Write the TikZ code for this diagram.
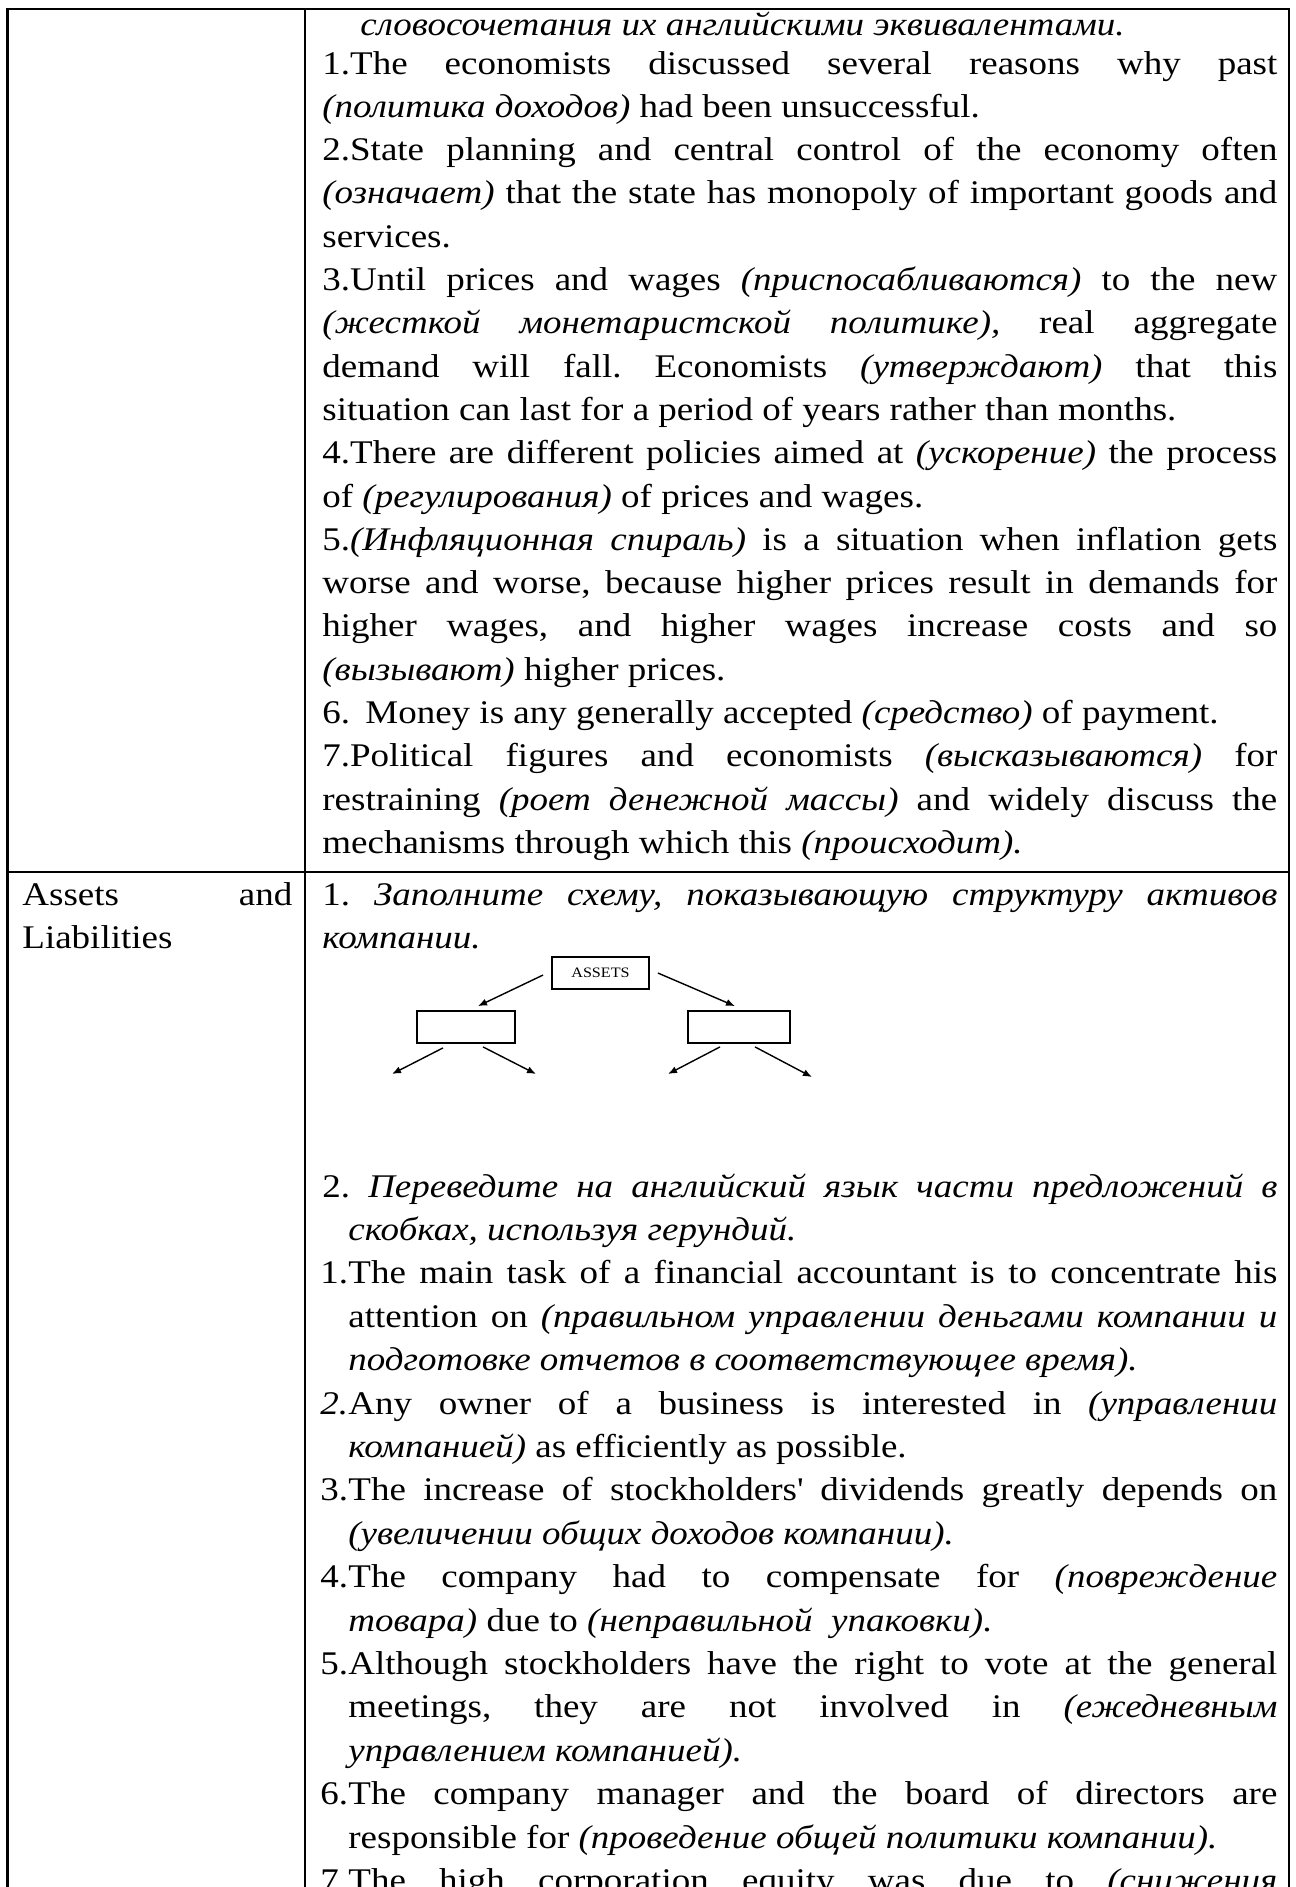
\documentclass[tikz,border=0pt]{standalone}
\usepackage{fontspec}
\setmainfont{Liberation Serif}[FakeStretch=1.12]
\usetikzlibrary{arrows.meta,calc}
\newcommand\jA[1]{\makebox[477.5pt][s]{#1}}
\newcommand\jB[1]{\makebox[464.5pt][s]{#1}}
\begin{document}
\begin{tikzpicture}[x=0.5pt,y=-0.5pt,
  txt/.style={anchor=base west, inner sep=0pt, font=\fontsize{16.52pt}{21.7pt}\selectfont\frenchspacing},
  rulel/.style={line width=1.25pt},
  dbox/.style={draw, line width=0.9pt, inner sep=0pt, minimum height=16pt},
  arr/.style={-{Latex[length=4.5pt,width=3.6pt]}, line width=0.7pt}]
\useasboundingbox (0,0) rectangle (1296,1887);
\fill[white] (0,0) rectangle (1296,1887);
% table rules
\draw[rulel] (7.5,1900) -- (7.5,9) -- (1289,9) -- (1289,1900);
\draw[rulel] (305,9) -- (305,1900);
\draw[rulel] (7.5,872) -- (1289,872);
% section 1
\node[txt] (l1) at (360,35) {\textit{словосочетания их английскими эквивалентами.}};
\node[txt] (l2) at (322,74) {\jA{1.The economists discussed several reasons why past}};
\node[txt] (l3) at (322,117.3) {\textit{(политика доходов)} had been unsuccessful.};
\node[txt] (l4) at (322,160.6) {\jA{2.State planning and central control of the economy often}};
\node[txt] (l5) at (322,203.9) {\jA{\textit{(означает)} that the state has monopoly of important goods and}};
\node[txt] (l6) at (322,247.2) {services.};
\node[txt] (l7) at (322,290.5) {\jA{3.Until prices and wages \textit{(приспосабливаются)} to the new}};
\node[txt] (l8) at (322,333.8) {\jA{\textit{(жесткой монетаристской политике),} real aggregate}};
\node[txt] (l9) at (322,377.1) {\jA{demand will fall. Economists \textit{(утверждают)} that this}};
\node[txt] (l10) at (322,420.4) {situation can last for a period of years rather than months.};
\node[txt] (l11) at (322,463.7) {\jA{4.There are different policies aimed at \textit{(ускорение)} the process}};
\node[txt] (l12) at (322,507) {of \textit{(регулирования)} of prices and wages.};
\node[txt] (l13) at (322,550.3) {\jA{5.\textit{(Инфляционная спираль)} is a situation when inflation gets}};
\node[txt] (l14) at (322,593.6) {\jA{worse and worse, because higher prices result in demands for}};
\node[txt] (l15) at (322,636.9) {\jA{higher wages, and higher wages increase costs and so}};
\node[txt] (l16) at (322,680.2) {\textit{(вызывают)} higher prices.};
\node[txt] (l17n) at (322,723.5) {6.};
\node[txt] (l17) at (365,723.5) {Money is any generally accepted \textit{(средство)} of payment.};
\node[txt] (l18) at (322,766.8) {\jA{7.Political figures and economists \textit{(высказываются)} for}};
\node[txt] (l19) at (322,810.1) {\jA{restraining \textit{(роет денежной массы)} and widely discuss the}};
\node[txt] (l20) at (322,853.4) {mechanisms through which this \textit{(происходит).}};
% left column
\node[txt] (c1) at (22,905) {\makebox[135pt][s]{Assets and}};
\node[txt] (c2) at (22,948) {Liabilities};
% section 2
\node[txt] (r1) at (322,905) {\jA{1. \textit{Заполните схему, показывающую структуру активов}}};
\node[txt] (r2) at (322,948) {\textit{компании.}};
% diagram
\node[dbox, minimum width=48.5pt, font=\fontsize{7.2pt}{9pt}\selectfont] (assets) at (600.5,973) {ASSETS};
\node[dbox, minimum width=49pt] (lb) at (466,1027) {};
\node[dbox, minimum width=51pt] (rb) at (739,1027) {};
\coordinate (lbl) at (392,1074);
\coordinate (lbr) at (536,1074);
\coordinate (rbl) at (668,1074);
\coordinate (rbr) at (812,1077);
\draw[arr] ($(assets.west)+(-8,2)$) -- ($(lb.north)+(12,-4)$);
\draw[arr] ($(assets.east)+(8,0)$) -- ($(rb.north)+(-4,-4)$);
\draw[arr] ($(lb.south)+(-23,4)$) -- (lbl);
\draw[arr] ($(lb.south)+(17,3)$) -- (lbr);
\draw[arr] ($(rb.south)+(-19,3)$) -- (rbl);
\draw[arr] ($(rb.south)+(16,3)$) -- (rbr);
% exercise 2
\node[txt] (r3) at (322,1197) {\jA{2. \textit{Переведите на английский язык части предложений в}}};
\node[txt] (r4) at (348,1240.4) {\textit{скобках, используя герундий.}};
\node[txt] (n1) at (320,1283.8) {1.};
\node[txt] (r5) at (348,1283.8) {\jB{The main task of a financial accountant is to concentrate his}};
\node[txt] (r6) at (348,1327.2) {\jB{attention on \textit{(правильном управлении деньгами компании и}}};
\node[txt] (r7) at (348,1370.6) {\textit{подготовке отчетов в соответствующее время).}};
\node[txt] (n2) at (320,1414) {\textit{2.}};
\node[txt] (r8) at (348,1414) {\jB{Any owner of a business is interested in \textit{(управлении}}};
\node[txt] (r9) at (348,1457.4) {\textit{компанией)} as efficiently as possible.};
\node[txt] (n3) at (320,1500.8) {3.};
\node[txt] (r10) at (348,1500.8) {\jB{The increase of stockholders\textquotesingle{} dividends greatly depends on}};
\node[txt] (r11) at (348,1544.2) {\textit{(увеличении общих доходов компании).}};
\node[txt] (n4) at (320,1587.6) {4.};
\node[txt] (r12) at (348,1587.6) {\jB{The company had to compensate for \textit{(повреждение}}};
\node[txt] (r13) at (348,1631) {\textit{товара)} due to \textit{(неправильной\ \ упаковки).}};
\node[txt] (n5) at (320,1674.4) {5.};
\node[txt] (r14) at (348,1674.4) {\jB{Although stockholders have the right to vote at the general}};
\node[txt] (r15) at (348,1717.8) {\jB{meetings, they are not involved in \textit{(ежедневным}}};
\node[txt] (r16) at (348,1761.2) {\textit{управлением компанией).}};
\node[txt] (n6) at (320,1804.6) {6.};
\node[txt] (r17) at (348,1804.6) {\jB{The company manager and the board of directors are}};
\node[txt] (r18) at (348,1848) {responsible for \textit{(проведение общей политики компании).}};
\node[txt] (n7) at (320,1891.4) {7.};
\node[txt] (r19) at (348,1891.4) {\jB{The high corporation equity was due to \textit{(снижения}}};
\end{tikzpicture}
\end{document}
